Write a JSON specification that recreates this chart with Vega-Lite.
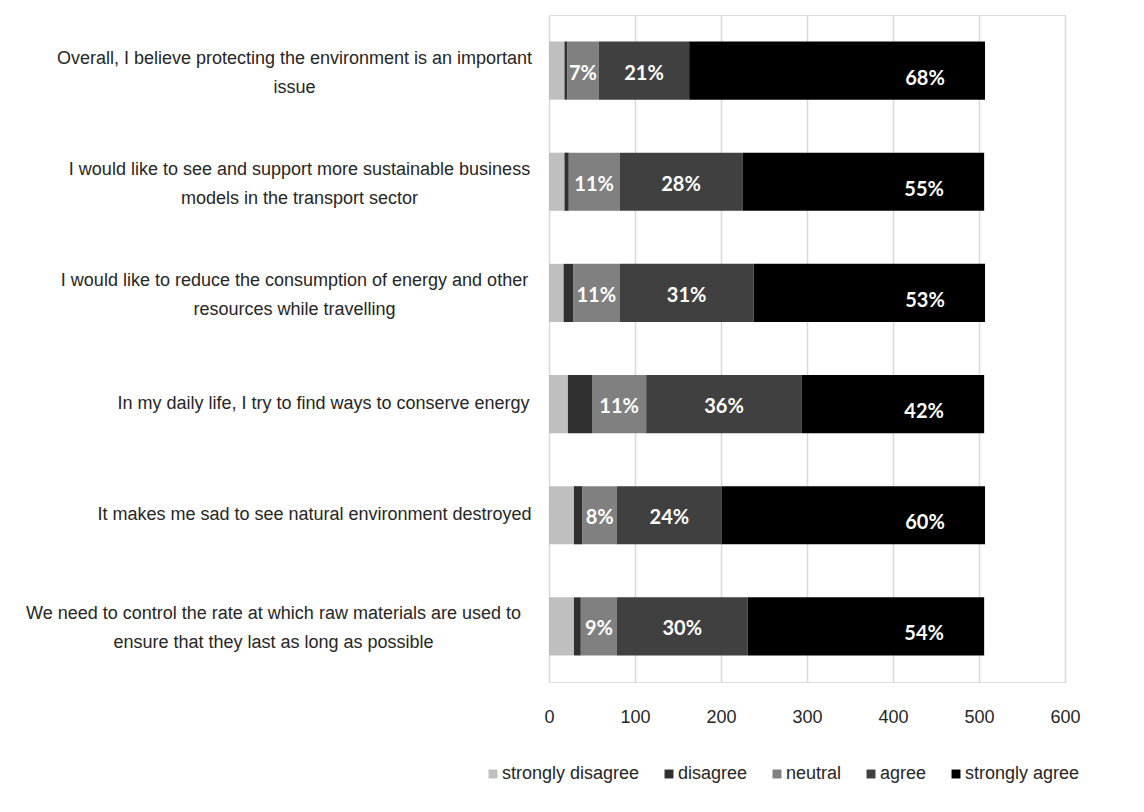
{
  "$schema": "https://vega.github.io/schema/vega-lite/v6.json",
  "width": 516,
  "height": 667,
  "autosize": "none",
  "padding": {"left": 549, "top": 15, "right": 79, "bottom": 130},
  "background": "white",
  "data": {
    "values": [
      {"q": "Overall, I believe protecting the environment is an important issue", "resp": "strongly disagree", "n": 18, "label": ""},
      {"q": "Overall, I believe protecting the environment is an important issue", "resp": "disagree", "n": 3, "label": ""},
      {"q": "Overall, I believe protecting the environment is an important issue", "resp": "neutral", "n": 37, "label": "7%"},
      {"q": "Overall, I believe protecting the environment is an important issue", "resp": "agree", "n": 105, "label": "21%"},
      {"q": "Overall, I believe protecting the environment is an important issue", "resp": "strongly agree", "n": 344, "label": "68%"},
      {"q": "I would like to see and support more sustainable business models in the transport sector", "resp": "strongly disagree", "n": 18, "label": ""},
      {"q": "I would like to see and support more sustainable business models in the transport sector", "resp": "disagree", "n": 5, "label": ""},
      {"q": "I would like to see and support more sustainable business models in the transport sector", "resp": "neutral", "n": 59, "label": "11%"},
      {"q": "I would like to see and support more sustainable business models in the transport sector", "resp": "agree", "n": 143, "label": "28%"},
      {"q": "I would like to see and support more sustainable business models in the transport sector", "resp": "strongly agree", "n": 281, "label": "55%"},
      {"q": "I would like to reduce the consumption of energy and other resources while travelling", "resp": "strongly disagree", "n": 17, "label": ""},
      {"q": "I would like to reduce the consumption of energy and other resources while travelling", "resp": "disagree", "n": 11, "label": ""},
      {"q": "I would like to reduce the consumption of energy and other resources while travelling", "resp": "neutral", "n": 54, "label": "11%"},
      {"q": "I would like to reduce the consumption of energy and other resources while travelling", "resp": "agree", "n": 156, "label": "31%"},
      {"q": "I would like to reduce the consumption of energy and other resources while travelling", "resp": "strongly agree", "n": 269, "label": "53%"},
      {"q": "In my daily life, I try to find ways to conserve energy", "resp": "strongly disagree", "n": 22, "label": ""},
      {"q": "In my daily life, I try to find ways to conserve energy", "resp": "disagree", "n": 28, "label": ""},
      {"q": "In my daily life, I try to find ways to conserve energy", "resp": "neutral", "n": 63, "label": "11%"},
      {"q": "In my daily life, I try to find ways to conserve energy", "resp": "agree", "n": 181, "label": "36%"},
      {"q": "In my daily life, I try to find ways to conserve energy", "resp": "strongly agree", "n": 212, "label": "42%"},
      {"q": "It makes me sad to see natural environment destroyed", "resp": "strongly disagree", "n": 29, "label": ""},
      {"q": "It makes me sad to see natural environment destroyed", "resp": "disagree", "n": 10, "label": ""},
      {"q": "It makes me sad to see natural environment destroyed", "resp": "neutral", "n": 40, "label": "8%"},
      {"q": "It makes me sad to see natural environment destroyed", "resp": "agree", "n": 122, "label": "24%"},
      {"q": "It makes me sad to see natural environment destroyed", "resp": "strongly agree", "n": 306, "label": "60%"},
      {"q": "We need to control the rate at which raw materials are used  to ensure that they last as long as possible", "resp": "strongly disagree", "n": 29, "label": ""},
      {"q": "We need to control the rate at which raw materials are used  to ensure that they last as long as possible", "resp": "disagree", "n": 8, "label": ""},
      {"q": "We need to control the rate at which raw materials are used  to ensure that they last as long as possible", "resp": "neutral", "n": 42, "label": "9%"},
      {"q": "We need to control the rate at which raw materials are used  to ensure that they last as long as possible", "resp": "agree", "n": 152, "label": "30%"},
      {"q": "We need to control the rate at which raw materials are used  to ensure that they last as long as possible", "resp": "strongly agree", "n": 275, "label": "54%"}
    ]
  },
  "transform": [
    {"calculate": "indexof(['strongly disagree','disagree','neutral','agree','strongly agree'], datum.resp)", "as": "k"},
    {"stack": "n", "groupby": ["q"], "sort": [{"field": "k", "order": "ascending"}], "as": ["x0", "x1"]},
    {"calculate": "(datum.x0 + datum.x1) / 2", "as": "xm"}
  ],
  "encoding": {
    "y": {
      "field": "q",
      "type": "nominal",
      "sort": null,
      "title": null,
      "scale": {"paddingInner": 0.477, "paddingOuter": 0.2385},
      "axis": {
        "domain": false,
        "ticks": false,
        "grid": false,
        "labelPadding": {
          "condition": [
            {"test": "indexof(datum.value, 'Overall') == 0", "value": 255},
            {"test": "indexof(datum.value, 'I would like to see') == 0", "value": 250},
            {"test": "indexof(datum.value, 'I would like to reduce') == 0", "value": 255},
            {"test": "indexof(datum.value, 'In my daily') == 0", "value": 226},
            {"test": "indexof(datum.value, 'It makes') == 0", "value": 235}
          ],
          "value": 276
        },
        "labelOffset": {
          "condition": [
            {"test": "indexof(datum.value, 'In my daily') == 0", "value": 0},
            {"test": "indexof(datum.value, 'It makes') == 0", "value": 0}
          ],
          "value": -12
        },
        "labelAlign": "center",
        "labelBaseline": "middle",
        "labelFont": "Liberation Sans",
        "labelFontSize": 18,
        "labelLineHeight": 29,
        "labelColor": "#262626",
        "labelLimit": 0,
        "labelExpr": "datum.label == 'Overall, I believe protecting the environment is an important issue' ? ['Overall, I believe protecting the environment is an important', 'issue'] : datum.label == 'I would like to see and support more sustainable business models in the transport sector' ? ['I would like to see and support more sustainable business', 'models in the transport sector'] : datum.label == 'I would like to reduce the consumption of energy and other resources while travelling' ? ['I would like to reduce the consumption of energy and other', 'resources while travelling'] : datum.label == 'We need to control the rate at which raw materials are used  to ensure that they last as long as possible' ? ['We need to control the rate at which raw materials are used  to', 'ensure that they last as long as possible'] : datum.label"
      }
    }
  },
  "layer": [
    {
      "mark": {"type": "bar"},
      "encoding": {
        "x": {
          "field": "x0",
          "type": "quantitative",
          "title": null,
          "scale": {"domain": [0, 600], "nice": false, "zero": true},
          "axis": {
            "values": [0, 100, 200, 300, 400, 500, 600],
            "domain": false,
            "ticks": false,
            "grid": true,
            "gridColor": "#d9d9d9",
            "gridWidth": 1.5,
            "labelFont": "Liberation Sans",
            "labelFontSize": 18,
            "labelColor": "#262626",
            "labelPadding": 35,
            "labelBaseline": "middle",
            "labelFlush": false
          }
        },
        "x2": {"field": "x1"},
        "color": {
          "field": "resp",
          "type": "nominal",
          "scale": {
            "domain": ["strongly disagree", "disagree", "neutral", "agree", "strongly agree"],
            "range": ["#bfbfbf", "#303030", "#808080", "#404040", "#000000"]
          },
          "legend": {
            "title": null,
            "orient": "none",
            "legendX": -65,
            "legendY": 750,
            "direction": "horizontal",
            "columns": 5,
            "symbolType": "square",
            "symbolSize": 80,
            "symbolStrokeWidth": 0,
            "labelFont": "Liberation Sans",
            "labelFontSize": 18,
            "labelColor": "#262626",
            "labelOffset": 0,
            "columnPadding": 20,
            "padding": 0
          }
        }
      }
    },
    {
      "transform": [{"filter": "datum.resp == 'neutral' || datum.resp == 'agree'"}],
      "mark": {"type": "text", "color": "white", "font": "Lato", "fontWeight": "bold", "fontSize": 20, "baseline": "middle", "align": "center", "dy": 3},
      "encoding": {
        "x": {"field": "xm", "type": "quantitative"},
        "text": {"field": "label"}
      }
    },
    {
      "transform": [{"filter": "datum.resp == 'strongly agree'"}],
      "mark": {"type": "text", "color": "white", "font": "Lato", "fontWeight": "bold", "fontSize": 20, "baseline": "middle", "align": "center", "dx": -60, "dy": 8},
      "encoding": {
        "x": {"field": "x1", "type": "quantitative"},
        "text": {"field": "label"}
      }
    }
  ]
}
